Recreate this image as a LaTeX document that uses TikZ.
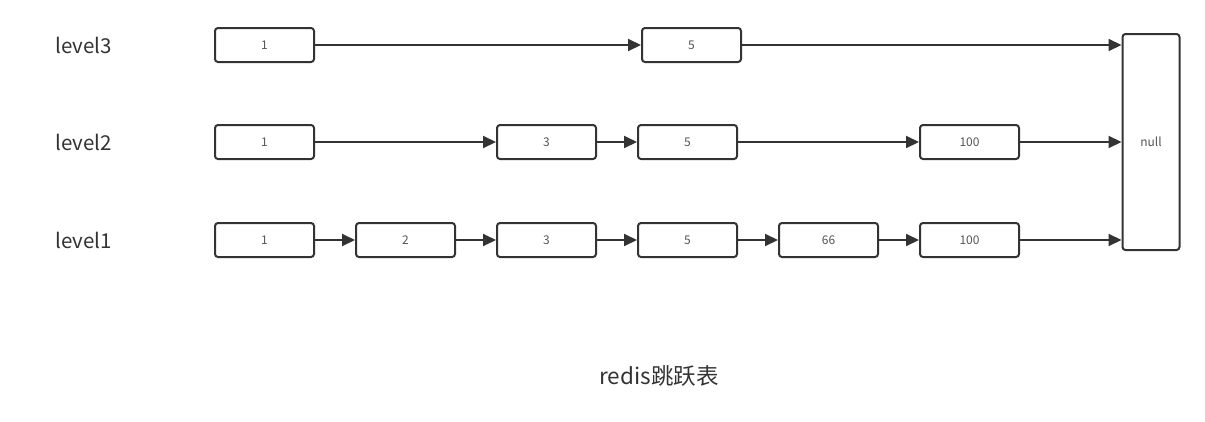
\documentclass[tikz,border=0pt]{standalone}
\usepackage{fontspec}
\setmainfont{Noto Sans CJK SC}
\usetikzlibrary{arrows.meta}
\definecolor{edge}{HTML}{333333}
\definecolor{lbl}{HTML}{333333}
\definecolor{boxtxt}{HTML}{555555}
\tikzset{
  cell/.style={draw=edge, line width=2pt, rounded corners=3pt, minimum width=99pt, minimum height=34pt, inner sep=0pt, text=boxtxt, font=\fontsize{12}{14}\selectfont},
  nullbox/.style={cell, minimum width=57pt, minimum height=216pt},
  lvl/.style={anchor=west, text=lbl, font=\fontsize{20.5}{24}\selectfont, inner sep=0pt},
  link/.style={draw=edge, line width=2pt, -{Triangle[length=13pt,width=12pt]}}
}
\begin{document}
\begin{tikzpicture}[x=1pt,y=-1pt]
\useasboundingbox (0,0) rectangle (1205,421);
% labels
\node[lvl] (l3) at (55,45) {level3};
\node[lvl] (l2) at (55,142) {level2};
\node[lvl] (l1) at (55,240) {level1};
% null
\node[nullbox] (nul) at (1151,142) {null};
% level3
\node[cell] (a1) at (264.5,45) {1};
\node[cell] (a5) at (691.5,45) {5};
% level2
\node[cell] (b1) at (264.5,142) {1};
\node[cell] (b3) at (546.5,142) {3};
\node[cell] (b5) at (687.5,142) {5};
\node[cell] (b100) at (969.5,142) {100};
% level1
\node[cell] (c1) at (264.5,240) {1};
\node[cell] (c2) at (405.5,240) {2};
\node[cell] (c3) at (546.5,240) {3};
\node[cell] (c5) at (687.5,240) {5};
\node[cell] (c66) at (828.5,240) {66};
\node[cell] (c100) at (969.5,240) {100};
% links
\draw[link] (a1) -- (a5);
\draw[link] (a5.east) -- (a5.east -| nul.west);
\draw[link] (b1) -- (b3);
\draw[link] (b3) -- (b5);
\draw[link] (b5) -- (b100);
\draw[link] (b100.east) -- (b100.east -| nul.west);
\draw[link] (c1) -- (c2);
\draw[link] (c2) -- (c3);
\draw[link] (c3) -- (c5);
\draw[link] (c5) -- (c66);
\draw[link] (c66) -- (c100);
\draw[link] (c100.east) -- (c100.east -| nul.west);
% caption
\node[text=lbl, font=\fontsize{22.5}{26}\selectfont, inner sep=0pt] (cap) at (659,376) {redis跳跃表};
\end{tikzpicture}
\end{document}
